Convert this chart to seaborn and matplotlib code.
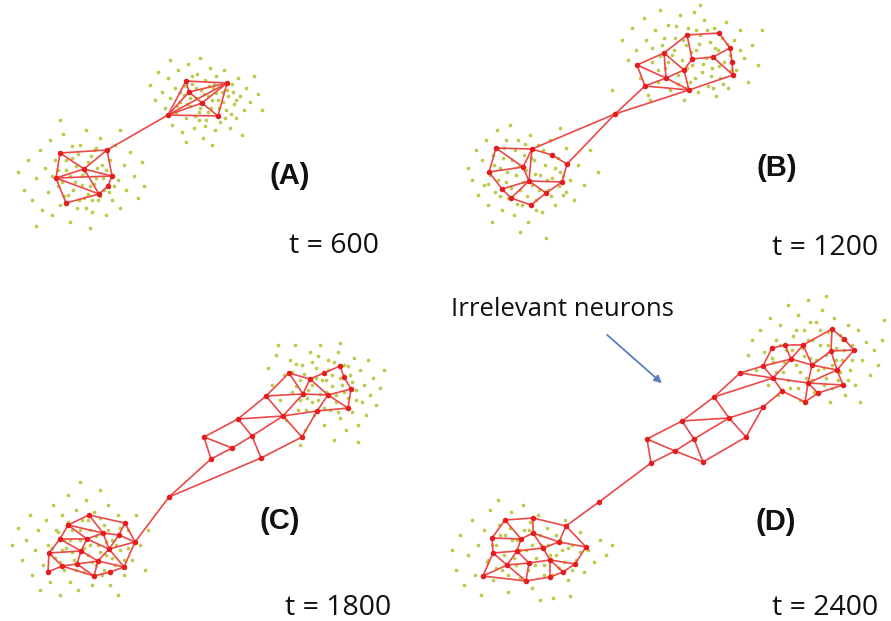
import numpy as np
import pandas as pd
import matplotlib
matplotlib.use("Agg")
import matplotlib.pyplot as plt
import seaborn as sns

# ---------------------------------------------------------------------------
# Growing neural gas snapshots: neuron positions, their connections and the
# input samples, all in a shared canvas coordinate system (x right, y down).
# ---------------------------------------------------------------------------

# ---- (A) t = 600 ----------------------------------------------------------
A_nodes = [(186, 81), (227, 83), (189, 92), (202, 103), (168, 115), (218, 116),
           (107, 150), (60, 153), (84, 169), (56, 178), (112, 176), (108, 186),
           (99, 194), (66, 203)]
A_edges = [(0, 1), (0, 2), (0, 4), (1, 2), (1, 3), (1, 5), (2, 3), (2, 4), (3, 4),
           (3, 5), (4, 5), (1, 4), (4, 6),
           (7, 6), (7, 9), (9, 13), (13, 12), (12, 11), (11, 10), (10, 6), (7, 8),
           (6, 8), (8, 9), (8, 10), (8, 12), (9, 12), (9, 10)]
A_samples = [(150, 85), (155, 100), (158, 72), (162, 92), (165, 108), (168, 78), (170, 98),
             (172, 125), (175, 88), (176, 112), (178, 70), (180, 102), (182, 132), (184, 95),
             (186, 118), (188, 64), (190, 106), (192, 84), (194, 128), (196, 98), (197, 74),
             (199, 112), (201, 90), (203, 138), (205, 80), (206, 120), (208, 96), (210, 68),
             (211, 108), (213, 88), (215, 130), (216, 76), (218, 100), (220, 122), (222, 92),
             (224, 70), (226, 110), (228, 96), (230, 128), (232, 84), (234, 104), (236, 118),
             (238, 78), (240, 96), (244, 110), (246, 88), (250, 102), (254, 76), (258, 94),
             (262, 110), (200, 58), (170, 60), (212, 145), (186, 142), (242, 135),
             (185, 86), (190, 98), (196, 88), (200, 108), (204, 94), (208, 112), (212, 100),
             (214, 84), (219, 108), (223, 102), (227, 90), (231, 114), (195, 116), (187, 104),
             (205, 126), (216, 93), (225, 118), (180, 92), (236, 100), (192, 76), (209, 86),
             (221, 86), (199, 120), (233, 92), (177, 106),
             (18, 172), (24, 190), (28, 160), (32, 200), (36, 178), (40, 150), (42, 210),
             (45, 168), (48, 192), (50, 140), (52, 215), (55, 160), (58, 186), (60, 205),
             (63, 134), (66, 170), (68, 195), (70, 222), (72, 158), (75, 182), (77, 208),
             (80, 145), (82, 175), (84, 198), (86, 130), (88, 162), (90, 186), (92, 212),
             (94, 150), (96, 178), (98, 200), (100, 138), (102, 165), (104, 190), (106, 215),
             (110, 160), (112, 200), (115, 145), (118, 180), (120, 208), (124, 165), (126, 190),
             (130, 152), (134, 176), (138, 198), (142, 162), (36, 226), (90, 228), (120, 130),
             (60, 120), (144, 186),
             (58, 170), (62, 182), (66, 160), (70, 176), (73, 190), (76, 166), (79, 200),
             (82, 185), (85, 172), (88, 194), (91, 156), (94, 184), (97, 168), (100, 196),
             (103, 178), (106, 170), (109, 192), (64, 196), (72, 146), (86, 208), (96, 148),
             (114, 186), (52, 176), (78, 154), (92, 200)]

# ---- (B) t = 1200 ---------------------------------------------------------
B_nodes = [(687, 35), (719, 33), (730, 48), (732, 62), (733, 75), (664, 53), (692, 59),
           (713, 57), (637, 65), (684, 70), (666, 78), (645, 86), (689, 90),
           (615, 114),
           (496, 148), (532, 149), (552, 155), (567, 164), (523, 167), (489, 172),
           (529, 181), (562, 182), (502, 189), (511, 198), (546, 193), (531, 205)]
B_edges = [(8, 5), (5, 0), (0, 1), (1, 2), (2, 3), (3, 4), (4, 12), (12, 11), (11, 8),
           (8, 10), (5, 10), (5, 9), (0, 6), (6, 9), (6, 7), (7, 2), (7, 4), (9, 12),
           (10, 12), (10, 9), (11, 10),
           (11, 13), (12, 13), (13, 15), (13, 17),
           (14, 15), (15, 16), (16, 17), (17, 21), (21, 24), (24, 25), (25, 23), (23, 22),
           (22, 19), (19, 14), (14, 18), (15, 18), (18, 19), (18, 20), (20, 21), (20, 22),
           (20, 23), (20, 24), (15, 20)]
B_samples = [(622, 40), (628, 60), (632, 28), (636, 50), (640, 78), (644, 18), (646, 40),
             (648, 95), (652, 62), (655, 30), (658, 82), (660, 10), (662, 45), (665, 68),
             (668, 25), (670, 90), (672, 55), (675, 38), (678, 75), (680, 15), (682, 60),
             (684, 100), (686, 45), (688, 28), (690, 82), (692, 65), (694, 12), (696, 50),
             (698, 92), (700, 35), (702, 72), (704, 20), (706, 58), (708, 86), (710, 42),
             (712, 68), (714, 28), (716, 96), (718, 50), (720, 78), (722, 38), (724, 62),
             (726, 22), (728, 88), (730, 55), (734, 40), (736, 70), (740, 30), (744, 58),
             (748, 82), (752, 45), (758, 65), (762, 30), (650, 100), (700, 5), (612, 90),
             (652, 48), (658, 70), (664, 38), (668, 62), (674, 50), (678, 84), (683, 40),
             (687, 68), (691, 52), (695, 78), (699, 44), (703, 64), (707, 30), (711, 76),
             (715, 48), (719, 66), (723, 84), (727, 44), (731, 70), (696, 30), (676, 26),
             (660, 56), (713, 88), (686, 88), (740, 50),
             (468, 168), (472, 180), (476, 150), (478, 195), (482, 160), (484, 185), (486, 140),
             (488, 205), (490, 175), (493, 155), (495, 192), (497, 130), (500, 168), (502, 210),
             (504, 148), (506, 182), (508, 198), (510, 125), (512, 160), (514, 215), (516, 175),
             (518, 140), (520, 190), (522, 205), (524, 155), (526, 170), (528, 222), (530, 135),
             (532, 185), (534, 160), (536, 200), (538, 145), (540, 175), (542, 212), (545, 165),
             (548, 190), (550, 140), (552, 178), (555, 205), (558, 158), (560, 172), (563, 195),
             (566, 148), (570, 180), (574, 200), (578, 165), (584, 185), (590, 150), (598, 172),
             (520, 232), (546, 238), (492, 222), (560, 128),
             (494, 165), (498, 180), (503, 158), (507, 172), (511, 188), (515, 150), (519, 166),
             (523, 182), (527, 196), (531, 158), (535, 174), (539, 190), (543, 150), (547, 180),
             (551, 196), (555, 168), (559, 186), (563, 176), (500, 196), (517, 204), (536, 210),
             (525, 144), (506, 140), (566, 192), (488, 184)]

# ---- (C) t = 1800 ---------------------------------------------------------
C_nodes = [(289, 373), (310, 379), (324, 373), (340, 366), (344, 377), (351, 389),
           (348, 408), (266, 396), (303, 394), (328, 395), (317, 411), (238, 419),
           (283, 416), (204, 437), (252, 436), (302, 437), (232, 448), (211, 459),
           (261, 458),
           (169, 497),
           (89, 515), (125, 523), (68, 525), (103, 533), (119, 535), (60, 539), (87, 539),
           (135, 542), (81, 551), (109, 549), (49, 553), (77, 564), (98, 561), (62, 566),
           (124, 567), (110, 572), (48, 572), (94, 576)]
C_edges = [(0, 1), (1, 2), (2, 3), (3, 4), (4, 5), (5, 6), (6, 10), (0, 7), (7, 8), (8, 9),
           (9, 5), (0, 8), (1, 8), (1, 9), (9, 10), (9, 6), (7, 11), (7, 12), (8, 12),
           (11, 12), (12, 10), (11, 13), (11, 14), (12, 14), (12, 15), (10, 15), (13, 16),
           (13, 17), (14, 16), (14, 18), (16, 17), (15, 18), (17, 19), (18, 19), (19, 27),
           (22, 20), (20, 21), (21, 27), (27, 34), (34, 35), (35, 37), (37, 33), (33, 36),
           (36, 30), (30, 25), (25, 22), (22, 23), (20, 23), (23, 24), (24, 21), (24, 27),
           (25, 26), (26, 23), (26, 29), (29, 27), (23, 29), (25, 28), (26, 28), (30, 28),
           (28, 32), (28, 31), (30, 33), (33, 31), (31, 32), (32, 34), (29, 32), (29, 34),
           (32, 37), (31, 37), (24, 29), (22, 26)]
C_samples = [(268, 368), (272, 385), (276, 355), (280, 400), (284, 375), (286, 420), (290, 360),
             (292, 392), (295, 345), (298, 410), (300, 380), (302, 365), (305, 430), (307, 398),
             (310, 352), (312, 385), (314, 415), (316, 368), (318, 400), (320, 345), (322, 380),
             (324, 425), (326, 392), (328, 360), (330, 410), (332, 375), (334, 440), (336, 395),
             (338, 352), (340, 418), (342, 385), (344, 365), (346, 430), (348, 398), (350, 375),
             (352, 412), (354, 358), (356, 390), (358, 425), (360, 370), (362, 402), (364, 385),
             (366, 415), (368, 360), (370, 395), (373, 378), (376, 405), (380, 388), (384, 370),
             (278, 345), (358, 442), (300, 445), (340, 343),
             (292, 372), (296, 386), (300, 400), (304, 374), (308, 390), (312, 362), (316, 378),
             (320, 394), (324, 408), (328, 370), (332, 386), (336, 402), (340, 378), (344, 392),
             (348, 366), (352, 382), (346, 408), (306, 410), (318, 356), (334, 362), (326, 380),
             (312, 402), (338, 412), (356, 400), (296, 364),
             (12, 545), (18, 528), (22, 560), (26, 540), (30, 515), (32, 575), (35, 550),
             (38, 530), (40, 590), (43, 565), (46, 520), (48, 545), (50, 582), (53, 505),
             (55, 558), (58, 532), (60, 595), (62, 515), (64, 570), (66, 548), (68, 495),
             (70, 582), (72, 530), (74, 560), (76, 510), (78, 590), (80, 540), (82, 520),
             (84, 572), (86, 500), (88, 555), (90, 530), (92, 585), (94, 512), (96, 565),
             (98, 545), (100, 490), (102, 575), (104, 525), (106, 555), (108, 505), (110, 585),
             (112, 540), (115, 565), (118, 515), (120, 550), (124, 575), (128, 530), (132, 560),
             (136, 515), (140, 545), (145, 570), (80, 482), (118, 595), (148, 530),
             (52, 548), (56, 530), (60, 562), (64, 540), (68, 522), (72, 552), (76, 570),
             (80, 530), (84, 548), (88, 520), (92, 562), (96, 536), (100, 552), (104, 570),
             (108, 530), (112, 558), (116, 545), (120, 528), (124, 560), (128, 548), (70, 540),
             (90, 545), (106, 542), (62, 550), (100, 518)]

# ---- (D) t = 2400 ---------------------------------------------------------
D_nodes = [(832, 329), (844, 339), (854, 350), (803, 345), (785, 345), (772, 348),
           (831, 351), (791, 359), (763, 366), (812, 365), (837, 370), (740, 373),
           (773, 378), (808, 383), (843, 385), (782, 391), (818, 393), (805, 402),
           (714, 397), (763, 407), (682, 421), (729, 418), (746, 437), (647, 439),
           (694, 439), (675, 451), (703, 462), (651, 463),
           (599, 502), (566, 526),
           (505, 520), (533, 518), (492, 538), (521, 539), (533, 533), (559, 542),
           (586, 547), (543, 548), (493, 553), (517, 551), (507, 565), (529, 563),
           (550, 560), (575, 564), (563, 572), (483, 576), (526, 581), (550, 577)]
D_edges = [(5, 4), (4, 3), (3, 0), (0, 1), (1, 2), (2, 10), (10, 14), (14, 16), (16, 17),
           (17, 15), (15, 19), (19, 22), (22, 21), (11, 8), (8, 5), (11, 18), (18, 20),
           (20, 23), (23, 27), (27, 25), (25, 23), (25, 24), (24, 20), (24, 26), (26, 25),
           (26, 22), (24, 21), (21, 19), (20, 21), (18, 21), (18, 12), (11, 12), (12, 8),
           (12, 7), (12, 15), (12, 13), (8, 7), (7, 4), (7, 9), (3, 9), (9, 6), (6, 0),
           (6, 2), (6, 10), (9, 10), (9, 13), (13, 10), (13, 16), (13, 17), (13, 14), (3, 7),
           (27, 28), (28, 29),
           (30, 31), (30, 32), (32, 38), (38, 45), (45, 46), (46, 47), (47, 44), (44, 43),
           (43, 36), (31, 29), (29, 35), (29, 36), (30, 33), (31, 34), (32, 33), (33, 34),
           (34, 35), (34, 37), (33, 39), (38, 39), (39, 37), (37, 35), (35, 36), (37, 42),
           (42, 43), (42, 44), (39, 41), (39, 40), (38, 40), (45, 40), (40, 41), (41, 42),
           (41, 46), (40, 46), (42, 47)]
D_samples = [(748, 355), (752, 340), (756, 370), (760, 330), (764, 352), (768, 385), (770, 318),
             (773, 362), (776, 340), (778, 395), (780, 325), (783, 372), (786, 350), (788, 305),
             (790, 388), (793, 336), (796, 365), (798, 315), (800, 400), (802, 348), (804, 330),
             (806, 378), (808, 300), (810, 358), (812, 340), (814, 392), (816, 322), (818, 370),
             (820, 345), (822, 310), (824, 385), (826, 355), (828, 332), (830, 402), (832, 365),
             (834, 318), (836, 348), (838, 380), (840, 335), (842, 360), (845, 395), (848, 325),
             (850, 370), (852, 345), (855, 385), (858, 330), (862, 360), (866, 342), (870, 375),
             (874, 350), (878, 365), (882, 340), (826, 296), (860, 402), (884, 320),
             (772, 358), (776, 372), (780, 345), (784, 362), (788, 380), (792, 350), (796, 330),
             (800, 372), (804, 356), (808, 340), (812, 380), (816, 360), (820, 330), (824, 368),
             (828, 345), (832, 388), (836, 360), (840, 372), (844, 350), (848, 380), (852, 360),
             (810, 322), (826, 378), (798, 388), (842, 340),
             (452, 550), (456, 570), (460, 535), (464, 585), (468, 555), (472, 520), (475, 575),
             (478, 545), (481, 595), (484, 530), (487, 562), (490, 510), (493, 580), (496, 545),
             (499, 525), (502, 570), (505, 535), (508, 592), (511, 512), (514, 558), (517, 540),
             (520, 578), (523, 505), (526, 550), (529, 530), (532, 588), (535, 565), (538, 515),
             (541, 545), (544, 575), (547, 528), (550, 555), (553, 598), (556, 535), (559, 568),
             (562, 550), (565, 520), (568, 580), (572, 545), (576, 560), (580, 532), (584, 572),
             (588, 550), (594, 562), (600, 540), (606, 555), (612, 545), (498, 500), (540, 600),
             (570, 596),
             (488, 560), (492, 545), (496, 568), (500, 535), (504, 555), (508, 575), (512, 540),
             (516, 565), (520, 550), (524, 530), (528, 570), (532, 545), (536, 558), (540, 535),
             (544, 565), (548, 545), (552, 575), (556, 555), (560, 540), (564, 562), (568, 548),
             (572, 570), (530, 522), (510, 528), (580, 552)]

# Panel labels and snapshot times
panel_labels = ["(A)", "(B)", "(C)", "(D)"]
panel_label_pos = [(290, 176), (777, 168), (280, 521), (776, 522)]
time_labels = ["t = 600", "t = 1200", "t = 1800", "t = 2400"]
time_label_pos = [(289, 253), (772, 255), (285, 615), (772, 615)]
annotation_text = "Irrelevant neurons"

snapshots = [(A_nodes, A_edges, A_samples), (B_nodes, B_edges, B_samples),
             (C_nodes, C_edges, C_samples), (D_nodes, D_edges, D_samples)]

# ---------------------------------------------------------------------------
sns.set_theme(style="white")
plt.rcParams["font.family"] = ["Open Sans", "DejaVu Sans"]

W, H = 891, 621
fig = plt.figure(figsize=(W / 100, H / 100), dpi=100)
ax = fig.add_axes([0, 0, 1, 1])

sample_rows, node_rows, edge_rows = [], [], []
for p, (nodes, edges, samples) in enumerate(snapshots):
    for (x, y) in samples:
        sample_rows.append({"x": x, "y": y, "panel": p})
    for (x, y) in nodes:
        node_rows.append({"x": x, "y": y, "panel": p})
    for k, (i, j) in enumerate(edges):
        eid = f"{p}-{k}"
        edge_rows.append({"x": nodes[i][0], "y": nodes[i][1], "edge": eid, "order": 0})
        edge_rows.append({"x": nodes[j][0], "y": nodes[j][1], "edge": eid, "order": 1})

samples_df = pd.DataFrame(sample_rows)
nodes_df = pd.DataFrame(node_rows)
edges_df = pd.DataFrame(edge_rows)

# input samples
sns.scatterplot(data=samples_df, x="x", y="y", ax=ax, color="#bcc640",
                s=7, linewidth=0, alpha=0.95, legend=False, zorder=1)
# connections between neurons
sns.lineplot(data=edges_df, x="x", y="y", units="edge", estimator=None, sort=False,
             ax=ax, color="#ec4848", linewidth=1.2, legend=False, zorder=2)
# neurons
sns.scatterplot(data=nodes_df, x="x", y="y", ax=ax, color="#e41e1e",
                s=16, linewidth=0, legend=False, zorder=3)

for lab, (x, y) in zip(panel_labels, panel_label_pos):
    ax.text(x, y, lab, ha="center", va="center", fontsize=21, fontweight="bold",
            family=["Liberation Sans", "DejaVu Sans"], color="#111111")
for lab, (x, y) in zip(time_labels, time_label_pos):
    ax.text(x, y, lab, ha="left", va="baseline", fontsize=20.5, color="#111111")

ax.text(451, 316, annotation_text, ha="left", va="baseline", fontsize=18.5,
        color="#111111")
ax.annotate("", xy=(664, 385), xytext=(605, 333),
            arrowprops=dict(arrowstyle="-|>", color="#5a7fbd", lw=1.3,
                            mutation_scale=11))

ax.set_xlim(0, W)
ax.set_ylim(H, 0)
ax.set_axis_off()

fig.savefig("out.png", dpi=100, facecolor="white")
